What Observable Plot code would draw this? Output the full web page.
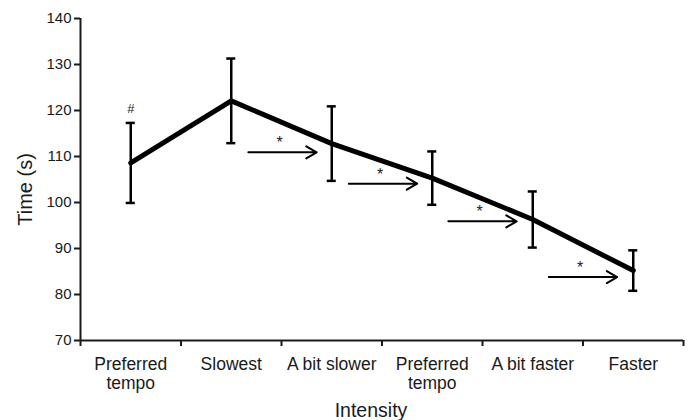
<!DOCTYPE html>
<html><head><meta charset="utf-8">
<script src="https://cdn.jsdelivr.net/npm/d3@7"></script>
<script src="https://cdn.jsdelivr.net/npm/@observablehq/plot@0.6"></script>
<style>body{margin:0;background:#fff}</style>
</head><body><div id="chart"></div>
<script>
const categories = ["Preferred\ntempo", "Slowest", "A bit slower", "Preferred\ntempo", "A bit faster", "Faster"];
const means = [108.6, 122.1, 112.8, 105.3, 96.3, 85.2];
const errors = [8.7, 9.2, 8.1, 5.8, 6.1, 4.4];
const yTicks = [70, 80, 90, 100, 110, 120, 130, 140];
// significance arrows between consecutive conditions (x in category index units)
const arrowFrom = [1.17, 2.17, 3.16, 4.16];
const arrowTo = [1.85, 2.85, 3.84, 4.84];
const arrowY = [110.9, 104.1, 95.9, 83.8];
const hashIndex = 0;
const xTitle = "Intensity";
const yTitle = "Time (s)";

const data = categories.map((c, i) => ({i, c, m: means[i], lo: means[i] - errors[i], hi: means[i] + errors[i]}));
const arrows = arrowFrom.map((a, k) => ({x1: a, x2: arrowTo[k], y: arrowY[k]}));
const bounds = d3.range(-0.5, categories.length, 1);
const capW = 0.045;

const font = "Liberation Sans, Arial, sans-serif";
const ink = "#1a1a1a";
const chart = Plot.plot({
  width: 692, height: 420,
  marginLeft: 80, marginRight: 9, marginTop: 18, marginBottom: 80,
  style: {fontFamily: font, color: ink, background: "#fff"},
  x: {type: "linear", domain: [-0.5, 5.5]},
  y: {domain: [70, 140]},
  marks: [
    Plot.axisY({ticks: yTicks, tickSize: 6, tickPadding: 3, strokeWidth: 2, fontSize: 15, label: null}),
    Plot.axisX({ticks: bounds, tickSize: 6, tickFormat: () => "", strokeWidth: 2, label: null}),
    Plot.text(data, {x: "i", y: 70, text: "c", lineAnchor: "top", dy: 16, fontSize: 17.5, lineHeight: 1.1, fill: ink}),
    Plot.text([xTitle], {frameAnchor: "bottom", lineAnchor: "middle", textAnchor: "middle", dx: -11, dy: 70, fontSize: 19.5, fill: ink}),
    Plot.text([yTitle], {frameAnchor: "left", textAnchor: "middle", lineAnchor: "middle", rotate: -90, dx: -55, dy: 10, fontSize: 20, fill: ink}),
    Plot.ruleX([-0.5], {y1: 70, y2: 140, strokeWidth: 2}),
    Plot.ruleY([70], {x1: -0.5, x2: 5.5, strokeWidth: 2}),
    Plot.line(data, {x: "i", y: "m", strokeWidth: 5, stroke: "#000"}),
    Plot.ruleX(data, {x: "i", y1: "lo", y2: "hi", strokeWidth: 2.5, stroke: "#000"}),
    Plot.ruleY(data, {y: "hi", x1: d => d.i - capW, x2: d => d.i + capW, strokeWidth: 2.5, stroke: "#000"}),
    Plot.ruleY(data, {y: "lo", x1: d => d.i - capW, x2: d => d.i + capW, strokeWidth: 2.5, stroke: "#000"}),
    Plot.arrow(arrows, {x1: "x1", x2: "x2", y1: "y", y2: "y", strokeWidth: 2, stroke: "#000", headLength: 9, headAngle: 60}),
    Plot.text(arrows, {x: d => (d.x1 + d.x2) / 2 - 0.03, y: "y", text: () => "*", dy: -9, fontSize: 16, fill: "#222"}),
    Plot.text([data[hashIndex]], {x: "i", y: "hi", text: () => "#", dy: -14, fontSize: 13, fill: "#222"})
  ]
});
document.getElementById("chart").appendChild(chart);
</script>
</body></html>
